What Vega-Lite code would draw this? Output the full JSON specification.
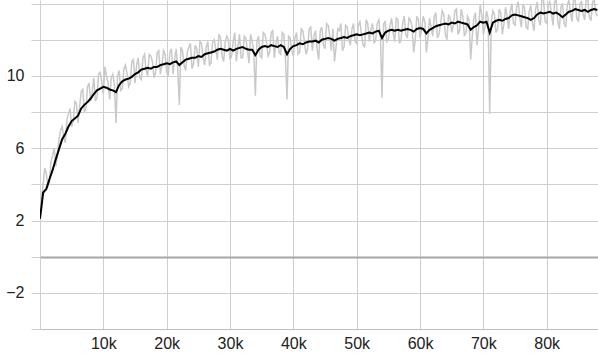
{
  "$schema": "https://vega.github.io/schema/vega-lite/v6.json",
  "autosize": {"type": "none"},
  "padding": {"left": 40, "top": 0, "right": 0, "bottom": 25},
  "width": 558,
  "height": 329,
  "background": "white",
  "config": {
    "view": {"stroke": null},
    "axis": {"labelFont": "Liberation Sans", "labelFontSize": 16, "labelColor": "#222", "gridColor": "#cfcfcf", "gridWidth": 1, "tickColor": "#cfcfcf", "domainColor": "#bdbdbd"}
  },
  "datasets": {
    "raw": [
{"step":0,"value":2.3},{"step":250,"value":3.3},{"step":500,"value":4.0},{"step":750,"value":4.9},{"step":1000,"value":4.6},{"step":1250,"value":3.9},{"step":1500,"value":4.1},{"step":1750,"value":5.3},{"step":2000,"value":5.6},{"step":2250,"value":6.0},{"step":2500,"value":5.0},{"step":2750,"value":5.6},{"step":3000,"value":6.5},{"step":3250,"value":7.0},{"step":3500,"value":7.2},{"step":3750,"value":6.6},{"step":4000,"value":6.3},{"step":4250,"value":7.6},{"step":4500,"value":7.9},{"step":4750,"value":8.2},{"step":5000,"value":7.2},{"step":5250,"value":7.5},{"step":5500,"value":8.6},{"step":5750,"value":8.5},{"step":6000,"value":7.4},{"step":6250,"value":8.3},{"step":6500,"value":9.1},{"step":6750,"value":9.3},{"step":7000,"value":8.0},{"step":7250,"value":8.2},{"step":7500,"value":9.4},{"step":7750,"value":9.6},{"step":8000,"value":8.6},{"step":8250,"value":9.1},{"step":8500,"value":9.9},{"step":8750,"value":8.6},{"step":9000,"value":8.8},{"step":9250,"value":10.1},{"step":9500,"value":10.2},{"step":9750,"value":9.7},{"step":10000,"value":9.0},{"step":10250,"value":10.5},{"step":10500,"value":10.0},{"step":10750,"value":9.6},{"step":11000,"value":8.7},{"step":11250,"value":9.9},{"step":11500,"value":10.1},{"step":11750,"value":9.5},{"step":12000,"value":7.4},{"step":12250,"value":10.0},{"step":12500,"value":10.3},{"step":12750,"value":9.2},{"step":13000,"value":9.3},{"step":13250,"value":10.4},{"step":13500,"value":10.6},{"step":13750,"value":10.1},{"step":14000,"value":9.4},{"step":14250,"value":9.6},{"step":14500,"value":10.8},{"step":14750,"value":10.9},{"step":15000,"value":9.6},{"step":15250,"value":10.6},{"step":15500,"value":11.0},{"step":15750,"value":9.9},{"step":16000,"value":9.8},{"step":16250,"value":11.0},{"step":16500,"value":11.2},{"step":16750,"value":10.3},{"step":17000,"value":10.0},{"step":17250,"value":11.2},{"step":17500,"value":11.1},{"step":17750,"value":10.8},{"step":18000,"value":9.9},{"step":18250,"value":10.2},{"step":18500,"value":11.3},{"step":18750,"value":11.4},{"step":19000,"value":10.1},{"step":19250,"value":10.6},{"step":19500,"value":11.4},{"step":19750,"value":11.2},{"step":20000,"value":10.2},{"step":20250,"value":10.0},{"step":20500,"value":11.3},{"step":20750,"value":11.5},{"step":21000,"value":10.1},{"step":21250,"value":10.9},{"step":21500,"value":11.5},{"step":21750,"value":10.4},{"step":22000,"value":8.4},{"step":22250,"value":11.6},{"step":22500,"value":11.4},{"step":22750,"value":10.6},{"step":23000,"value":10.3},{"step":23250,"value":11.3},{"step":23500,"value":11.6},{"step":23750,"value":11.8},{"step":24000,"value":10.4},{"step":24250,"value":10.7},{"step":24500,"value":11.7},{"step":24750,"value":11.5},{"step":25000,"value":10.5},{"step":25250,"value":11.9},{"step":25500,"value":11.8},{"step":25750,"value":11.0},{"step":26000,"value":10.6},{"step":26250,"value":11.6},{"step":26500,"value":11.9},{"step":26750,"value":10.6},{"step":27000,"value":10.7},{"step":27250,"value":11.9},{"step":27500,"value":12.0},{"step":27750,"value":11.5},{"step":28000,"value":10.9},{"step":28250,"value":12.3},{"step":28500,"value":12.1},{"step":28750,"value":11.1},{"step":29000,"value":10.8},{"step":29250,"value":11.9},{"step":29500,"value":12.2},{"step":29750,"value":12.0},{"step":30000,"value":10.9},{"step":30250,"value":11.1},{"step":30500,"value":11.9},{"step":30750,"value":12.4},{"step":31000,"value":10.8},{"step":31250,"value":11.6},{"step":31500,"value":12.3},{"step":31750,"value":11.0},{"step":32000,"value":11.0},{"step":32250,"value":12.2},{"step":32500,"value":12.1},{"step":32750,"value":11.4},{"step":33000,"value":10.7},{"step":33250,"value":12.3},{"step":33500,"value":11.9},{"step":33750,"value":11.4},{"step":34000,"value":8.9},{"step":34250,"value":11.9},{"step":34500,"value":12.2},{"step":34750,"value":11.1},{"step":35000,"value":11.0},{"step":35250,"value":12.4},{"step":35500,"value":12.3},{"step":35750,"value":11.9},{"step":36000,"value":11.1},{"step":36250,"value":11.3},{"step":36500,"value":12.4},{"step":36750,"value":12.5},{"step":37000,"value":11.0},{"step":37250,"value":11.8},{"step":37500,"value":12.2},{"step":37750,"value":11.3},{"step":38000,"value":11.2},{"step":38250,"value":12.4},{"step":38500,"value":12.3},{"step":38750,"value":11.0},{"step":39000,"value":8.7},{"step":39250,"value":12.2},{"step":39500,"value":12.1},{"step":39750,"value":11.4},{"step":40000,"value":11.1},{"step":40250,"value":12.1},{"step":40500,"value":12.4},{"step":40750,"value":11.2},{"step":41000,"value":11.3},{"step":41250,"value":12.6},{"step":41500,"value":12.5},{"step":41750,"value":11.9},{"step":42000,"value":11.2},{"step":42250,"value":11.5},{"step":42500,"value":12.6},{"step":42750,"value":12.7},{"step":43000,"value":11.4},{"step":43250,"value":12.2},{"step":43500,"value":12.5},{"step":43750,"value":11.5},{"step":44000,"value":10.9},{"step":44250,"value":12.5},{"step":44500,"value":12.7},{"step":44750,"value":11.7},{"step":45000,"value":11.5},{"step":45250,"value":12.9},{"step":45500,"value":12.8},{"step":45750,"value":12.2},{"step":46000,"value":11.4},{"step":46250,"value":12.6},{"step":46500,"value":10.8},{"step":46750,"value":11.6},{"step":47000,"value":12.6},{"step":47250,"value":12.5},{"step":47500,"value":12.9},{"step":47750,"value":11.4},{"step":48000,"value":11.6},{"step":48250,"value":12.8},{"step":48500,"value":12.7},{"step":48750,"value":12.0},{"step":49000,"value":11.7},{"step":49250,"value":12.6},{"step":49500,"value":12.9},{"step":49750,"value":11.9},{"step":50000,"value":11.8},{"step":50250,"value":12.8},{"step":50500,"value":13.0},{"step":50750,"value":12.3},{"step":51000,"value":11.7},{"step":51250,"value":11.6},{"step":51500,"value":13.1},{"step":51750,"value":12.9},{"step":52000,"value":11.9},{"step":52250,"value":12.6},{"step":52500,"value":12.9},{"step":52750,"value":11.8},{"step":53000,"value":12.0},{"step":53250,"value":12.9},{"step":53500,"value":13.1},{"step":53750,"value":12.2},{"step":54000,"value":8.8},{"step":54250,"value":12.9},{"step":54500,"value":13.0},{"step":54750,"value":11.9},{"step":55000,"value":12.0},{"step":55250,"value":12.8},{"step":55500,"value":13.2},{"step":55750,"value":12.4},{"step":56000,"value":11.9},{"step":56250,"value":13.2},{"step":56500,"value":13.1},{"step":56750,"value":11.8},{"step":57000,"value":12.0},{"step":57250,"value":12.9},{"step":57500,"value":13.3},{"step":57750,"value":12.3},{"step":58000,"value":12.1},{"step":58250,"value":13.2},{"step":58500,"value":13.1},{"step":58750,"value":12.7},{"step":59000,"value":11.3},{"step":59250,"value":12.0},{"step":59500,"value":13.3},{"step":59750,"value":13.1},{"step":60000,"value":12.1},{"step":60250,"value":12.5},{"step":60500,"value":13.3},{"step":60750,"value":13.0},{"step":61000,"value":11.3},{"step":61250,"value":12.1},{"step":61500,"value":13.2},{"step":61750,"value":12.7},{"step":62000,"value":12.2},{"step":62250,"value":13.3},{"step":62500,"value":13.5},{"step":62750,"value":12.1},{"step":63000,"value":12.3},{"step":63250,"value":12.9},{"step":63500,"value":13.6},{"step":63750,"value":13.4},{"step":64000,"value":12.3},{"step":64250,"value":12.0},{"step":64500,"value":13.4},{"step":64750,"value":13.2},{"step":65000,"value":12.4},{"step":65250,"value":12.8},{"step":65500,"value":13.6},{"step":65750,"value":13.7},{"step":66000,"value":12.3},{"step":66250,"value":12.5},{"step":66500,"value":13.7},{"step":66750,"value":13.3},{"step":67000,"value":12.2},{"step":67250,"value":12.4},{"step":67500,"value":13.3},{"step":67750,"value":13.1},{"step":68000,"value":10.9},{"step":68250,"value":12.2},{"step":68500,"value":13.2},{"step":68750,"value":13.5},{"step":69000,"value":11.7},{"step":69250,"value":12.6},{"step":69500,"value":13.9},{"step":69750,"value":13.4},{"step":70000,"value":12.3},{"step":70250,"value":12.7},{"step":70500,"value":13.6},{"step":70750,"value":13.2},{"step":71000,"value":7.9},{"step":71250,"value":12.9},{"step":71500,"value":13.6},{"step":71750,"value":13.4},{"step":72000,"value":12.4},{"step":72250,"value":12.6},{"step":72500,"value":13.7},{"step":72750,"value":13.5},{"step":73000,"value":12.3},{"step":73250,"value":12.9},{"step":73500,"value":13.8},{"step":73750,"value":13.3},{"step":74000,"value":12.6},{"step":74250,"value":13.6},{"step":74500,"value":14.0},{"step":74750,"value":12.9},{"step":75000,"value":12.8},{"step":75250,"value":13.8},{"step":75500,"value":14.1},{"step":75750,"value":13.2},{"step":76000,"value":12.7},{"step":76250,"value":13.9},{"step":76500,"value":13.8},{"step":76750,"value":12.7},{"step":77000,"value":12.6},{"step":77250,"value":13.6},{"step":77500,"value":13.9},{"step":77750,"value":12.9},{"step":78000,"value":12.5},{"step":78250,"value":13.7},{"step":78500,"value":14.1},{"step":78750,"value":13.1},{"step":79000,"value":12.8},{"step":79250,"value":14.3},{"step":79500,"value":14.2},{"step":79750,"value":13.0},{"step":80000,"value":12.9},{"step":80250,"value":13.9},{"step":80500,"value":14.1},{"step":80750,"value":13.4},{"step":81000,"value":12.8},{"step":81250,"value":14.1},{"step":81500,"value":14.2},{"step":81750,"value":13.0},{"step":82000,"value":12.6},{"step":82250,"value":13.8},{"step":82500,"value":14.0},{"step":82750,"value":12.9},{"step":83000,"value":12.7},{"step":83250,"value":13.9},{"step":83500,"value":14.2},{"step":83750,"value":13.5},{"step":84000,"value":13.0},{"step":84250,"value":14.3},{"step":84500,"value":14.2},{"step":84750,"value":13.2},{"step":85000,"value":13.0},{"step":85250,"value":14.0},{"step":85500,"value":14.1},{"step":85750,"value":13.4},{"step":86000,"value":13.1},{"step":86250,"value":14.3},{"step":86500,"value":14.2},{"step":86750,"value":13.2},{"step":87000,"value":13.1},{"step":87250,"value":14.1},{"step":87500,"value":14.2},{"step":87750,"value":13.5},{"step":88000,"value":13.3}
    ],
    "smooth": [
{"step":0,"value":2.1},{"step":500,"value":3.55},{"step":1000,"value":3.75},{"step":1500,"value":4.3},{"step":2000,"value":4.8},{"step":2500,"value":5.4},{"step":3000,"value":5.95},{"step":3500,"value":6.5},{"step":4000,"value":6.8},{"step":4500,"value":7.2},{"step":5000,"value":7.5},{"step":5500,"value":7.65},{"step":6000,"value":7.8},{"step":6500,"value":8.2},{"step":7000,"value":8.4},{"step":7500,"value":8.55},{"step":8000,"value":8.75},{"step":8500,"value":9.0},{"step":9000,"value":9.2},{"step":9500,"value":9.3},{"step":10000,"value":9.4},{"step":10500,"value":9.35},{"step":11000,"value":9.25},{"step":11500,"value":9.2},{"step":12000,"value":9.1},{"step":12500,"value":9.5},{"step":13000,"value":9.7},{"step":13500,"value":9.8},{"step":14000,"value":9.85},{"step":14500,"value":9.95},{"step":15000,"value":10.1},{"step":15500,"value":10.2},{"step":16000,"value":10.35},{"step":16500,"value":10.4},{"step":17000,"value":10.45},{"step":17500,"value":10.4},{"step":18000,"value":10.5},{"step":18500,"value":10.5},{"step":19000,"value":10.6},{"step":19500,"value":10.65},{"step":20000,"value":10.7},{"step":20500,"value":10.65},{"step":21000,"value":10.75},{"step":21500,"value":10.8},{"step":22000,"value":10.6},{"step":22500,"value":10.75},{"step":23000,"value":10.9},{"step":23500,"value":10.95},{"step":24000,"value":11.0},{"step":24500,"value":11.0},{"step":25000,"value":11.1},{"step":25500,"value":11.05},{"step":26000,"value":11.2},{"step":26500,"value":11.25},{"step":27000,"value":11.3},{"step":27500,"value":11.35},{"step":28000,"value":11.45},{"step":28500,"value":11.5},{"step":29000,"value":11.45},{"step":29500,"value":11.4},{"step":30000,"value":11.5},{"step":30500,"value":11.4},{"step":31000,"value":11.5},{"step":31500,"value":11.55},{"step":32000,"value":11.6},{"step":32500,"value":11.5},{"step":33000,"value":11.45},{"step":33500,"value":11.45},{"step":34000,"value":11.15},{"step":34500,"value":11.45},{"step":35000,"value":11.6},{"step":35500,"value":11.65},{"step":36000,"value":11.6},{"step":36500,"value":11.7},{"step":37000,"value":11.65},{"step":37500,"value":11.6},{"step":38000,"value":11.7},{"step":38500,"value":11.6},{"step":39000,"value":11.2},{"step":39500,"value":11.5},{"step":40000,"value":11.65},{"step":40500,"value":11.7},{"step":41000,"value":11.8},{"step":41500,"value":11.75},{"step":42000,"value":11.85},{"step":42500,"value":11.9},{"step":43000,"value":11.9},{"step":43500,"value":11.95},{"step":44000,"value":11.85},{"step":44500,"value":12.0},{"step":45000,"value":12.05},{"step":45500,"value":12.1},{"step":46000,"value":12.05},{"step":46500,"value":11.95},{"step":47000,"value":12.05},{"step":47500,"value":12.1},{"step":48000,"value":12.15},{"step":48500,"value":12.1},{"step":49000,"value":12.2},{"step":49500,"value":12.25},{"step":50000,"value":12.3},{"step":50500,"value":12.25},{"step":51000,"value":12.3},{"step":51500,"value":12.35},{"step":52000,"value":12.4},{"step":52500,"value":12.35},{"step":53000,"value":12.45},{"step":53500,"value":12.5},{"step":54000,"value":12.1},{"step":54500,"value":12.4},{"step":55000,"value":12.5},{"step":55500,"value":12.55},{"step":56000,"value":12.5},{"step":56500,"value":12.55},{"step":57000,"value":12.5},{"step":57500,"value":12.55},{"step":58000,"value":12.6},{"step":58500,"value":12.55},{"step":59000,"value":12.45},{"step":59500,"value":12.6},{"step":60000,"value":12.65},{"step":60500,"value":12.6},{"step":61000,"value":12.35},{"step":61500,"value":12.55},{"step":62000,"value":12.65},{"step":62500,"value":12.75},{"step":63000,"value":12.8},{"step":63500,"value":12.85},{"step":64000,"value":12.9},{"step":64500,"value":12.85},{"step":65000,"value":12.95},{"step":65500,"value":12.9},{"step":66000,"value":13.0},{"step":66500,"value":12.95},{"step":67000,"value":12.9},{"step":67500,"value":12.85},{"step":68000,"value":12.55},{"step":68500,"value":12.7},{"step":69000,"value":12.8},{"step":69500,"value":13.0},{"step":70000,"value":12.95},{"step":70500,"value":13.0},{"step":71000,"value":12.4},{"step":71500,"value":12.95},{"step":72000,"value":13.05},{"step":72500,"value":13.1},{"step":73000,"value":13.05},{"step":73500,"value":13.15},{"step":74000,"value":13.2},{"step":74500,"value":13.35},{"step":75000,"value":13.4},{"step":75500,"value":13.35},{"step":76000,"value":13.3},{"step":76500,"value":13.25},{"step":77000,"value":13.2},{"step":77500,"value":13.1},{"step":78000,"value":13.2},{"step":78500,"value":13.4},{"step":79000,"value":13.5},{"step":79500,"value":13.45},{"step":80000,"value":13.5},{"step":80500,"value":13.55},{"step":81000,"value":13.45},{"step":81500,"value":13.5},{"step":82000,"value":13.4},{"step":82500,"value":13.25},{"step":83000,"value":13.4},{"step":83500,"value":13.55},{"step":84000,"value":13.6},{"step":84500,"value":13.7},{"step":85000,"value":13.65},{"step":85500,"value":13.6},{"step":86000,"value":13.65},{"step":86500,"value":13.55},{"step":87000,"value":13.65},{"step":87500,"value":13.7},{"step":88000,"value":13.65}
    ]
  },
  "encoding": {
    "x": {"field": "step", "type": "quantitative", "title": null,
      "scale": {"domain": [0, 88100], "nice": false, "zero": false},
      "axis": {"values": [0,10000,20000,30000,40000,50000,60000,70000,80000], "ticks": false, "labelPadding": 6, "labelFlush": false, "grid": true,
        "labelExpr": "datum.value == 0 ? '' : (datum.value/1000) + 'k'", "domain": true}},
    "y": {"field": "value", "type": "quantitative", "title": null,
      "scale": {"domain": [-4, 14.2], "nice": false, "zero": false},
      "axis": {"values": [-4,-2,0,2,4,6,8,10,12,14], "grid": true, "domain": false, "tickSize": 9, "labelPadding": 7, "labelOverlap": false,
        "gridColor": {"condition": {"test": "datum.value == 0", "value": "#a6a6a6"}, "value": "#cfcfcf"},
        "gridWidth": {"condition": {"test": "datum.value == 0", "value": 2}, "value": 1},
        "labelOpacity": {"condition": {"test": "datum.value == 10 || datum.value == 6 || datum.value == 2 || datum.value == -2", "value": 1}, "value": 0}}}
  },
  "layer": [
    {
      "data": {"name": "raw"},
      "mark": {"type": "line", "color": "#c9c9c9", "strokeWidth": 1.5, "clip": true}
    },
    {
      "data": {"name": "smooth"},
      "mark": {"type": "line", "color": "#000000", "strokeWidth": 2, "clip": true}
    }
  ]
}
